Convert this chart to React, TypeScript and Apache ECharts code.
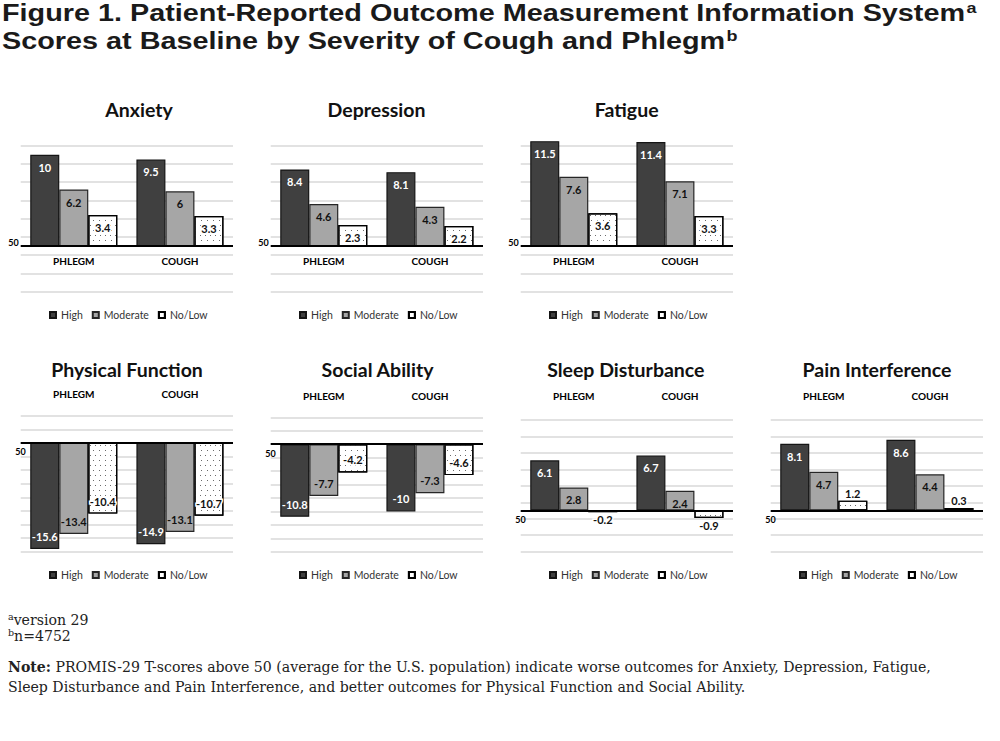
import React, { useEffect, useRef } from 'react';
import * as echarts from 'echarts';

// ---------- data ----------
const categories = ['PHLEGM', 'COUGH'];
const severityNames = ['High', 'Moderate', 'No/Low'];
const panelTitles = [
  'Anxiety',
  'Depression',
  'Fatigue',
  'Physical Function',
  'Social Ability',
  'Sleep Disturbance',
  'Pain Interference',
];
// rows: High, Moderate, No/Low ; columns: PHLEGM, COUGH
const anxietyScores = [[10, 9.5], [6.2, 6], [3.4, 3.3]];
const depressionScores = [[8.4, 8.1], [4.6, 4.3], [2.3, 2.2]];
const fatigueScores = [[11.5, 11.4], [7.6, 7.1], [3.6, 3.3]];
const physicalScores = [[-15.6, -14.9], [-13.4, -13.1], [-10.4, -10.7]];
const socialScores = [[-10.8, -10], [-7.7, -7.3], [-4.2, -4.6]];
const sleepScores = [[6.1, 6.7], [2.8, 2.4], [-0.2, -0.9]];
const painScores = [[8.1, 8.6], [4.7, 4.4], [1.2, 0.3]];
const panelScores = [
  anxietyScores,
  depressionScores,
  fatigueScores,
  physicalScores,
  socialScores,
  sleepScores,
  painScores,
];
const axisMin = [-5, -5, -5, -16, -16, -5, -5];
const axisMax = [11, 11, 11, 4, 4, 11, 11];
const axisStep = 2;
const baselineLabel = '50';

const headerLine1 = 'Figure 1. Patient-Reported Outcome Measurement Information System';
const headerLine2 = 'Scores at Baseline by Severity of Cough and Phlegm';
const headerSup1 = 'a';
const headerSup2 = 'b';
const footA = 'version 29';
const footB = 'n=4752';
const noteLine1 =
  ' PROMIS-29 T-scores above 50 (average for the U.S. population) indicate worse outcomes for Anxiety, Depression, Fatigue,';
const noteLine2 =
  'Sleep Disturbance and Pain Interference, and better outcomes for Physical Function and Social Ability.';

// ---------- layout ----------
const panels = [
  { x: 0, top: 145.7, bottom: 291.7, row: 0, titleX: 139, labelY: 0 },
  { x: 250, top: 145.7, bottom: 291.7, row: 0, titleX: 126.5, labelY: 0 },
  { x: 500, top: 145.7, bottom: 291.7, row: 0, titleX: 126.7, labelY: 0 },
  { x: 0, top: 415.7, bottom: 551.7, row: 1, titleX: 127, labelY: 394.3 },
  { x: 250, top: 417.3, bottom: 551.7, row: 1, titleX: 127.5, labelY: 396 },
  { x: 500, top: 420, bottom: 551.7, row: 1, titleX: 125.8, labelY: 396 },
  { x: 750, top: 420, bottom: 551.7, row: 1, titleX: 127, labelY: 396 },
];
const titleY = [109.5, 369];
const legendTop = [309.5, 569.5];

const FONT = 'Lato, "Open Sans", sans-serif';
const HEAD_FONT = '"Liberation Sans", Arial, sans-serif';
const HEAD_SCALE = 1.2;
const fills = ['#404040', '#a6a6a6', '#ffffff'];
const borders = ['#151515', '#262626', '#000000'];
const labelColors = ['#ffffff', '#111111', '#111111'];

function measure(text: string, font: string) {
  const c = document.createElement('canvas');
  const ctx = c.getContext('2d');
  if (!ctx) return text.length * 14;
  ctx.font = font;
  return ctx.measureText(text).width;
}

function buildData(values: number[], s: number) {
  return values.map((v) => {
    const small = Math.abs(v) < 1.5;
    const position = small ? (v >= 0 ? 'top' : 'bottom') : v >= 0 ? 'insideTop' : 'insideBottom';
    return {
      value: v,
      label: {
        position,
        distance: small ? 2 : 7,
        color: small ? '#111111' : labelColors[s],
      },
    };
  });
}

function buildOption() {
  const grid: any[] = [];
  const xAxis: any[] = [];
  const yAxis: any[] = [];
  const series: any[] = [];
  const legend: any[] = [];
  const graphic: any[] = [];

  panels.forEach((p, i) => {
    const h = p.bottom - p.top;
    grid.push({ left: p.x + 20.7, top: p.top, width: 212.3, height: h });
    const axisLabel = {
      fontSize: 10,
      fontWeight: 'bold',
      fontFamily: FONT,
      color: '#000',
      margin: p.row === 0 ? 10 : p.top - p.labelY - 5,
    };
    if (p.row === 0) {
      // move the category axis up to the baseline (value 0)
      const zeroFromBottom = (-axisMin[i] / (axisMax[i] - axisMin[i])) * h;
      xAxis.push({
        type: 'category',
        gridIndex: i,
        data: categories,
        position: 'bottom',
        offset: -zeroFromBottom,
        axisLine: { show: false, onZero: false },
        axisTick: { show: false },
        axisLabel,
        splitLine: { show: false },
      });
    } else {
      xAxis.push({
        type: 'category',
        gridIndex: i,
        data: categories,
        position: 'top',
        axisLine: { show: false, onZero: false },
        axisTick: { show: false },
        axisLabel,
        splitLine: { show: false },
      });
    }
    yAxis.push({
      type: 'value',
      gridIndex: i,
      min: axisMin[i],
      max: axisMax[i],
      interval: axisStep,
      axisLabel: { show: false },
      axisLine: { show: false },
      axisTick: { show: false },
      splitLine: { show: true, lineStyle: { color: '#d9d9d9', width: 1.5 } },
    });

    panelScores[i].forEach((vals, s) => {
      const ser: any = {
        type: 'bar',
        name: severityNames[s],
        xAxisIndex: i,
        yAxisIndex: i,
        data: buildData(vals, s),
        barGap: '0%',
        barCategoryGap: '18%',
        clip: false,
        itemStyle: {
          color: fills[s],
          borderColor: borders[s],
          borderWidth: 1.2,
        },
        emphasis: { disabled: true },
        label: {
          show: true,
          fontFamily: FONT,
          fontWeight: 'bold',
          fontSize: 11,
          textBorderColor: s === 2 ? '#ffffff' : 'transparent',
          textBorderWidth: s === 2 ? 3 : 0,
        },
      };
      if (s === 2) {
        ser.itemStyle.decal = {
          symbol: 'rect',
          symbolSize: 1,
          color: '#6a6a6a',
          backgroundColor: '#ffffff',
          dashArrayX: [[1, 4], [0, 2.5, 1, 1.5]],
          dashArrayY: [1, 3.2],
          rotation: 0,
        };
      }
      if (s === 0) {
        ser.markLine = {
          silent: true,
          symbol: ['none', 'none'],
          lineStyle: { color: '#000', width: 2, type: 'solid' },
          label: {
            show: true,
            position: 'start',
            formatter: baselineLabel,
            fontSize: 9,
            fontWeight: 'bold',
            fontFamily: FONT,
            color: '#000',
            distance: p.row === 0 ? 2 : -5,
            verticalAlign: p.row === 0 ? 'bottom' : 'top',
            lineHeight: p.row === 0 ? 8 : 18,
          },
          emphasis: { disabled: true },
          data: [{ yAxis: 0 }],
        };
      }
      series.push(ser);
    });

    legend.push({
      left: p.x + 49,
      top: legendTop[p.row],
      padding: 0,
      itemWidth: 6,
      itemHeight: 6,
      itemGap: 9,
      icon: 'rect',
      selectedMode: false,
      data: severityNames,
      textStyle: { fontSize: 10.5, fontFamily: FONT, color: '#333' },
    });

    graphic.push({
      type: 'text',
      x: p.x + p.titleX,
      y: titleY[p.row],
      style: {
        text: panelTitles[i],
        fontFamily: FONT,
        fontWeight: 'bold',
        fontSize: 19.5,
        fill: '#111',
        align: 'center',
        verticalAlign: 'middle',
      },
    });
  });

  // header (two lines, each with a superscript placed after the measured line)
  const headMain = { fontFamily: HEAD_FONT, fontWeight: 'bold', fontSize: 24, fill: '#1a1a1a' };
  const headSup = { fontFamily: HEAD_FONT, fontWeight: 'bold', fontSize: 15, fill: '#1a1a1a' };
  const w1 = measure(headerLine1, `bold 24px ${HEAD_FONT}`) * HEAD_SCALE;
  const w2 = measure(headerLine2, `bold 24px ${HEAD_FONT}`) * HEAD_SCALE;
  graphic.push({
    type: 'text',
    x: 2,
    y: 12.5,
    scaleX: HEAD_SCALE,
    style: { ...headMain, text: headerLine1, align: 'left', verticalAlign: 'middle' },
  });
  graphic.push({
    type: 'text',
    x: 2 + w1 + 1,
    y: 0.5,
    scaleX: HEAD_SCALE,
    style: { ...headSup, text: headerSup1, align: 'left', verticalAlign: 'top' },
  });
  graphic.push({
    type: 'text',
    x: 2,
    y: 41,
    scaleX: HEAD_SCALE,
    style: { ...headMain, text: headerLine2, align: 'left', verticalAlign: 'middle' },
  });
  graphic.push({
    type: 'text',
    x: 2 + w2 + 1,
    y: 28.8,
    scaleX: HEAD_SCALE,
    style: { ...headSup, text: headerSup2, align: 'left', verticalAlign: 'top' },
  });

  const serif = '"DejaVu Serif", serif';
  const footRich = {
    s: { fontFamily: serif, fontSize: 9.5, verticalAlign: 'top', fill: '#222' },
    n: { fontFamily: serif, fontSize: 14.1, lineHeight: 17, fill: '#222' },
    b: { fontFamily: serif, fontSize: 14.1, fontWeight: 'bold', lineHeight: 17, fill: '#222' },
  };
  graphic.push({
    type: 'text',
    x: 8,
    y: 620,
    style: { text: `{s|a}{n|${footA}}`, rich: footRich, verticalAlign: 'middle', align: 'left' },
  });
  graphic.push({
    type: 'text',
    x: 8,
    y: 636,
    style: { text: `{s|b}{n|${footB}}`, rich: footRich, verticalAlign: 'middle', align: 'left' },
  });
  graphic.push({
    type: 'text',
    x: 8,
    y: 667,
    style: { text: `{b|Note:}{n|${noteLine1}}`, rich: footRich, verticalAlign: 'middle', align: 'left' },
  });
  graphic.push({
    type: 'text',
    x: 8,
    y: 687,
    style: { text: `{n|${noteLine2}}`, rich: footRich, verticalAlign: 'middle', align: 'left' },
  });

  return {
    animation: false,
    backgroundColor: '#ffffff',
    grid,
    xAxis,
    yAxis,
    series,
    legend,
    graphic,
  };
}

export default function App() {
  const ref = useRef<HTMLDivElement>(null);
  useEffect(() => {
    if (!ref.current) return;
    const chart = echarts.init(ref.current, undefined, { renderer: 'svg' });
    chart.setOption(buildOption() as any);
    return () => chart.dispose();
  }, []);
  return (
    <div
      ref={ref}
      style={{ position: 'absolute', left: 0, top: 0, width: 1000, height: 741, background: '#fff' }}
    />
  );
}
